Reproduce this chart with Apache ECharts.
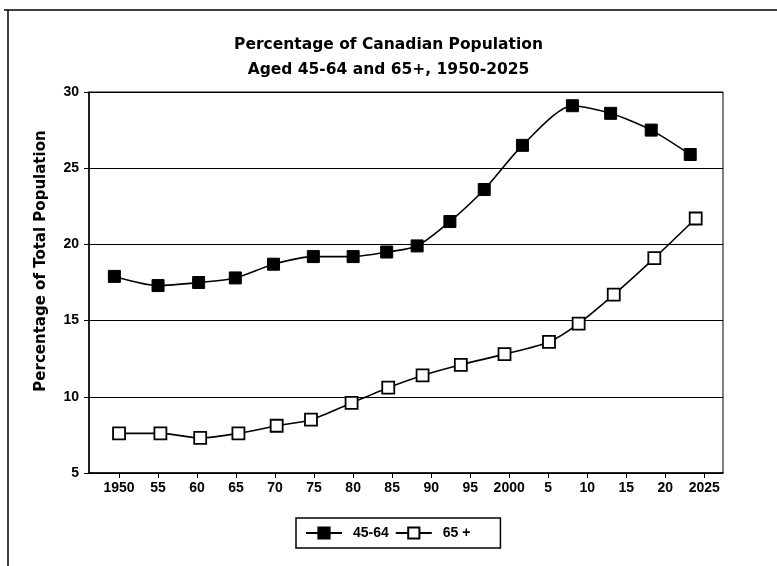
<!DOCTYPE html>
<html>
<head>
<meta charset="utf-8">
<script src="https://cdn.jsdelivr.net/npm/echarts@6/dist/echarts.min.js"></script>
<style>
  body { margin: 0; background: #fff; }
  #chart { width: 777px; height: 566px; }
</style>
</head>
<body>
<div id="chart"></div>
<script>
// years (points sit a bit off the ticks in the original)
var years4564 = [1949.4, 1955.0, 1960.2, 1964.9, 1969.8, 1974.9, 1980.0, 1984.3, 1988.2, 1992.4, 1996.8, 2001.7, 2008.1, 2013.0, 2018.2, 2023.2]
var values4564 = [17.9, 17.3, 17.5, 17.8, 18.7, 19.2, 19.2, 19.5, 19.9, 21.5, 23.6, 26.5, 29.1, 28.6, 27.5, 25.9]
var years65 = [1950.0, 1955.3, 1960.4, 1965.3, 1970.2, 1974.6, 1979.8, 1984.5, 1988.9, 1993.8, 1999.4, 2005.1, 2008.9, 2013.4, 2018.6, 2023.9]
var values65 = [7.6, 7.6, 7.3, 7.6, 8.1, 8.5, 9.6, 10.6, 11.4, 12.1, 12.8, 13.6, 14.8, 16.7, 19.1, 21.7]
var xTicks = [1950, 1955, 1960, 1965, 1970, 1975, 1980, 1985, 1990, 1995, 2000, 2005, 2010, 2015, 2020, 2025]
var xLabels = ['1950', '55', '60', '65', '70', '75', '80', '85', '90', '95', '2000', '5', '10', '15', '20', '2025']

function pairs (xs, ys) {
  return xs.map(function (x, i) { return [x, ys[i]] })
}

var font = 'Liberation Sans, Arial, sans-serif'
var wideFont = 'DejaVu Sans, sans-serif'
var myChart = echarts.init(document.getElementById('chart'))
var option = {
  backgroundColor: '#fff',
  animation: false,
  title: {
    text: 'Percentage of Canadian Population\nAged 45-64 and 65+, 1950-2025',
    left: 'center',
    top: 27,
    textStyle: { color: '#000', fontFamily: wideFont, fontSize: 15.5, fontWeight: 'bold', lineHeight: 25 }
  },
  graphic: [
    { type: 'line', shape: { x1: 4, y1: 10, x2: 777, y2: 10 }, style: { stroke: '#000', lineWidth: 1.5 } },
    { type: 'line', shape: { x1: 8, y1: 10, x2: 8, y2: 566 }, style: { stroke: '#000', lineWidth: 1.5 } },
    // y axis name, sits a bit above the middle in the original
    {
      type: 'text',
      x: 41,
      y: 261,
      rotation: Math.PI / 2,
      style: {
        text: 'Percentage of Total Population',
        fill: '#000',
        font: 'bold 15px DejaVu Sans, sans-serif',
        textAlign: 'center',
        textVerticalAlign: 'middle'
      }
    }
  ],
  legend: {
    data: ['45-64', '65 +'],
    left: 296,
    top: 518,
    padding: [8, 30, 8, 9],
    itemWidth: 36,
    itemHeight: 14,
    itemGap: 6,
    borderColor: '#000',
    borderWidth: 1.5,
    textStyle: { color: '#000', fontFamily: font, fontSize: 14, fontWeight: 'bold', padding: [0, 0, 0, 6] }
  },
  grid: {
    left: 89,
    right: 54,
    top: 92,
    bottom: 93,
    show: true,
    borderColor: '#000',
    borderWidth: 1
  },
  xAxis: {
    type: 'value',
    min: 1946.15,
    max: 2027.4,
    axisLine: { lineStyle: { color: '#000', width: 1.5 } },
    axisTick: { customValues: xTicks, length: 5, lineStyle: { color: '#000' } },
    axisLabel: {
      customValues: xTicks,
      color: '#000',
      fontFamily: font,
      fontSize: 14,
      fontWeight: 'bold',
      margin: 8,
      formatter: function (v) {
        var i = xTicks.indexOf(v)
        return i >= 0 ? xLabels[i] : ''
      }
    },
    splitLine: { show: false }
  },
  yAxis: {
    type: 'value',
    min: 5,
    max: 30,
    interval: 5,
    axisLine: { show: true, lineStyle: { color: '#000', width: 1.5 } },
    axisTick: { show: true, length: 5, lineStyle: { color: '#000' } },
    axisLabel: { color: '#000', fontFamily: font, fontSize: 14, fontWeight: 'bold', margin: 10 },
    splitLine: { show: true, lineStyle: { color: '#000', width: 1 } }
  },
  series: [
    {
      name: '45-64',
      type: 'line',
      data: pairs(years4564, values4564),
      smooth: 0.25,
      symbol: 'rect',
      symbolSize: 12,
      lineStyle: { color: '#000', width: 1.6 },
      itemStyle: { color: '#000', borderColor: '#000', borderWidth: 1 }
    },
    {
      name: '65 +',
      type: 'line',
      data: pairs(years65, values65),
      smooth: 0.25,
      symbol: 'rect',
      symbolSize: 12,
      lineStyle: { color: '#000', width: 1.6 },
      itemStyle: { color: '#fff', borderColor: '#000', borderWidth: 1.8 }
    }
  ]
}
myChart.setOption(option)
</script>
</body>
</html>
